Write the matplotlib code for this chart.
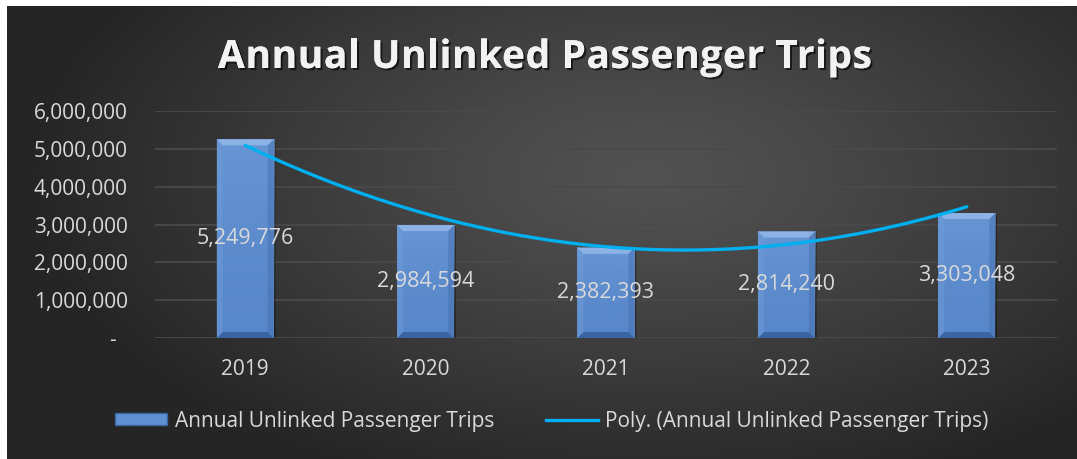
import numpy as np
import matplotlib.pyplot as plt
import matplotlib.patheffects as pe
from matplotlib.patches import Polygon, Patch
from matplotlib.lines import Line2D

# Datos del gráfico
years = ["2019", "2020", "2021", "2022", "2023"]
trips = [5249776, 2984594, 2382393, 2814240, 3303048]
yticks = [0, 1000000, 2000000, 3000000, 4000000, 5000000, 6000000]

series_name = "Annual Unlinked Passenger Trips"
trend_name = "Poly. (Annual Unlinked Passenger Trips)"

W, H = 1077, 459
fig = plt.figure(figsize=(W / 100, H / 100), dpi=100, facecolor="white")
plt.rcParams["font.family"] = ["Open Sans", "DejaVu Sans"]

# Fondo oscuro con degradado radial
bg = fig.add_axes([7 / W, 0, 1 - 7 / W, 1 - 6 / H])
bg.set_axis_off()
gx, gy = np.meshgrid(np.linspace(0, 1070, 540), np.linspace(0, 453, 230))
r = np.sqrt(((gx - 640) / 620) ** 2 + ((gy - 170) / 330) ** 2)
t = np.clip(r, 0, 1) ** 1.2
c0 = np.array([0x52, 0x52, 0x52]) / 255
c1 = np.array([0x25, 0x25, 0x25]) / 255
img = c0 * (1 - t[..., None]) + c1 * t[..., None]
bg.imshow(img, aspect="auto", extent=[0, 1, 0, 1], interpolation="bicubic")
bg.set_xlim(0, 1)
bg.set_ylim(0, 1)

ax = fig.add_axes([155 / W, 1 - 338 / H, (1057 - 155) / W, (338 - 111) / H])
ax.set_facecolor("none")

x = np.arange(len(years))
bw = 0.316
bars = ax.bar(x, trips, width=bw, color="#5887CA", zorder=3,
              edgecolor="none")

# Biselado de las barras
dx = 6 * 5 / 902
dy = 6 * 6000000 / 227
for b in bars:
    x0, x1 = b.get_x(), b.get_x() + b.get_width()
    y1 = b.get_height()
    # degradado vertical suave sobre la cara
    grad = np.linspace(0, 1, 100)[:, None]
    face = np.zeros((100, 1, 4))
    face[..., :3] = np.array([0x72, 0xA0, 0xDC]) / 255
    face[..., 3] = 0.6 * grad[:, 0:1] ** 1.5
    ax.imshow(face, extent=[x0, x1, 0, y1], aspect="auto",
              origin="lower", zorder=3.5, interpolation="bilinear")
    top = Polygon([[x0, y1], [x1, y1], [x1 - dx, y1 - dy], [x0 + dx, y1 - dy]],
                  closed=True, color="#8DB3E6", zorder=4, lw=0)
    bot = Polygon([[x0, 0], [x1, 0], [x1 - dx, dy], [x0 + dx, dy]],
                  closed=True, color="#3A65A0", zorder=4, lw=0)
    left = Polygon([[x0, 0], [x0 + dx, dy], [x0 + dx, y1 - dy], [x0, y1]],
                   closed=True, color="#6E9CD8", alpha=0.5, zorder=4, lw=0)
    right = Polygon([[x1, 0], [x1 - dx, dy], [x1 - dx, y1 - dy], [x1, y1]],
                    closed=True, color="#4670AE", alpha=0.5, zorder=4, lw=0)
    for p in (top, bot, left, right):
        ax.add_patch(p)
    # sombra
    sh = Polygon([[x1, 0], [x1 + 0.01, -50000], [x1 + 0.01, y1 - 50000], [x1, y1]],
                 closed=True, color="black", alpha=0.35, zorder=2, lw=0)
    ax.add_patch(sh)

ax.set_xlim(-0.5, len(years) - 0.5)
ax.set_ylim(0, 6000000)

# Etiquetas de datos
for xi, v in zip(x, trips):
    ax.text(xi, v / 2, f"{v:,}", ha="center", va="center", fontsize=15.5,
            color="#D9D9D9", zorder=6)

# Línea de tendencia polinómica (orden 2)
coef = np.polyfit(x, trips, 2)
xs = np.linspace(x[0], x[-1], 200)
ax.plot(xs, np.polyval(coef, xs), color="#00B0F0", lw=2.4, zorder=5,
        solid_capstyle="round")

ax.set_yticks(yticks)
ax.set_yticklabels([f"{v:,}" if v else "-  " for v in yticks])
ax.set_xticks(x)
ax.set_xticklabels(years)
ax.tick_params(axis="both", length=0, colors="#D9D9D9", labelsize=15)
ax.tick_params(axis="y", pad=19.5)
ax.tick_params(axis="x", pad=15)
ax.grid(axis="y", color="#4A4A4A", lw=1.3, zorder=0)
for s in ax.spines.values():
    s.set_visible(False)

# Título con espaciado entre letras
title = "Annual Unlinked Passenger Trips"
title_kw = dict(fontsize=28, fontweight="bold", color="#F2F2F2", va="baseline",
                path_effects=[pe.withSimplePatchShadow(offset=(1.5, -1.5),
                                                       shadow_rgbFace="black",
                                                       alpha=0.6),
                              pe.Normal()])
renderer = fig.canvas.get_renderer()
probe = fig.text(0, 0, title, **title_kw)
natural = probe.get_window_extent(renderer).width
probe.remove()
spacing = (654 - natural) / (len(title) - 1)
x_px = 545 - 654 / 2
for i, ch in enumerate(title):
    if ch != " ":
        prefix = title[:i]
        if prefix.strip():
            p = fig.text(0, 0, prefix + ch, **title_kw)
            w_full = p.get_window_extent(renderer).width
            p.remove()
            c = fig.text(0, 0, ch, **title_kw)
            w_ch = c.get_window_extent(renderer).width
            c.remove()
            offset = w_full - w_ch
        else:
            offset = 0
        fig.text((x_px + offset + i * spacing) / W, 1 - 68 / H, ch, **title_kw)

handles = [Patch(facecolor="#5F90D2", edgecolor="#3A65A0", lw=1),
           Line2D([0], [0], color="#00B0F0", lw=2.4)]
leg = fig.legend(handles, [series_name, trend_name], loc="center",
                 bbox_to_anchor=(552 / W, 1 - 421 / H), ncol=2, frameon=False,
                 fontsize=15, labelcolor="#D9D9D9", handlelength=2.5,
                 handleheight=0.55, columnspacing=2.5, handletextpad=0.35)

fig.savefig("out.png", dpi=100, facecolor="white")
